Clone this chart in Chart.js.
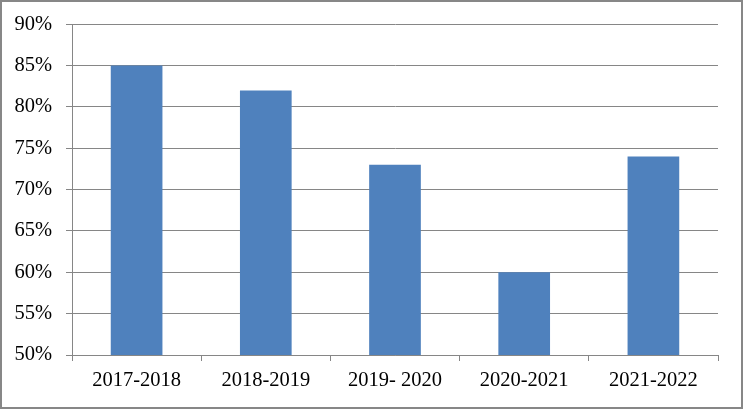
<!DOCTYPE html>
<html>
<head>
<meta charset="utf-8">
<script src="https://cdn.jsdelivr.net/npm/chart.js@4.4.0/dist/chart.umd.min.js"></script>
<style>
    html, body { margin: 0; padding: 0; background: #fff; }
    #wrap { width: 743px; height: 409px; }
</style>
</head>
<body>
<div id="wrap"><canvas id="rateChart"></canvas></div>
<script>
const years = ['2017-2018', '2018-2019', '2019- 2020', '2020-2021', '2021-2022'];
const rates = [85, 82, 73, 60, 74];
const yTicks = [50, 55, 60, 65, 70, 75, 80, 85, 90];

const gridColor = '#868686';

// grey frame around the whole picture
const framePlugin = {
    id: 'frame',
    afterDraw(chart) {
        const ctx = chart.ctx;
        ctx.save();
        ctx.strokeStyle = '#878787';
        ctx.lineWidth = 2;
        ctx.strokeRect(1, 1, chart.width - 2, chart.height - 2);
        ctx.restore();
    }
};

document.addEventListener('DOMContentLoaded', function() {
    const ctx = document.getElementById('rateChart').getContext('2d');

    new Chart(ctx, {
        type: 'bar',
        data: {
            labels: years,
            datasets: [{
                data: rates,
                backgroundColor: '#4F81BD',
                borderWidth: 0,
                categoryPercentage: 1,
                barPercentage: 0.4
            }]
        },
        options: {
            responsive: true,
            maintainAspectRatio: false,
            animation: false,
            devicePixelRatio: 1,
            layout: {
                padding: { left: 0, right: 25, top: 24, bottom: 0 }
            },
            plugins: {
                legend: { display: false },
                tooltip: { enabled: false }
            },
            scales: {
                x: {
                    grid: {
                        offset: true,
                        drawOnChartArea: false,
                        drawTicks: true,
                        tickLength: 6,
                        color: gridColor
                    },
                    border: { color: gridColor, width: 1 },
                    ticks: {
                        color: '#000',
                        padding: 7,
                        maxRotation: 0,
                        font: { family: '"Liberation Serif", serif', size: 20.5 }
                    },
                    afterFit: function(scale) {
                        scale.height = 54;
                    }
                },
                y: {
                    min: 50,
                    max: 90,
                    afterBuildTicks: function(scale) {
                        scale.ticks = yTicks.map(v => ({ value: v }));
                    },
                    grid: {
                        color: gridColor,
                        tickLength: 6
                    },
                    border: { color: gridColor, width: 1 },
                    ticks: {
                        color: '#000',
                        padding: 14,
                        font: { family: '"Liberation Serif", serif', size: 20.5, lineHeight: 1 },
                        callback: function(value) {
                            return value + '%';
                        }
                    },
                    afterFit: function(scale) {
                        scale.width = 72;
                    }
                }
            }
        },
        plugins: [framePlugin]
    });
});
</script>
</body>
</html>
